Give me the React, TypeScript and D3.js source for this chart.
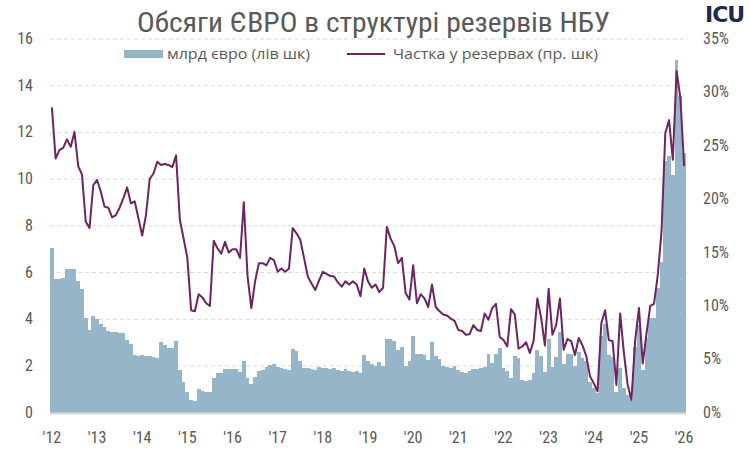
import React from "react";
import * as d3 from "d3";

const yearLabels = ["'12", "'13", "'14", "'15", "'16", "'17", "'18", "'19", "'20", "'21", "'22", "'23", "'24", "'25", "'26"];
const leftTicks = [0, 2, 4, 6, 8, 10, 12, 14, 16];
const rightTicks = [0, 5, 10, 15, 20, 25, 30, 35];

// EUR volume, bn EUR (left axis), monthly Jan 2012 .. Jan 2026
const eurBn = [
  7.04, 5.71, 5.71, 5.77, 6.14, 6.16, 6.16, 5.66, 5.29, 4.07, 3.54, 4.14,
  4.0, 3.79, 3.66, 3.51, 3.47, 3.44, 3.43, 3.4, 3.11, 2.93, 2.49, 2.43,
  2.47, 2.44, 2.41, 2.37, 2.33, 3.04, 2.9, 2.79, 2.79, 3.07, 1.83, 1.3,
  0.9, 0.54, 0.5, 1.01, 0.93, 0.9, 0.9, 1.5, 1.71, 1.69, 1.87, 1.87,
  1.87, 1.87, 1.76, 2.23, 1.5, 1.21, 1.54, 1.79, 1.83, 1.97, 2.04, 2.07,
  1.97, 1.93, 1.87, 1.83, 2.71, 2.64, 2.21, 1.93, 1.93, 1.87, 1.83, 1.97,
  1.93, 1.9, 1.87, 1.9, 1.83, 1.79, 1.87, 1.79, 1.76, 1.79, 1.69, 2.45,
  2.2, 2.1, 2.01, 2.19, 2.01, 3.16, 3.16, 3.07, 2.69, 2.8, 2.01, 2.21,
  3.29, 2.51, 2.51, 2.47, 2.26, 3.01, 2.44, 2.29, 2.01, 1.97, 1.93, 2.01,
  1.83, 1.76, 1.69, 1.79, 1.87, 1.87, 1.9, 1.97, 2.5, 2.14, 2.5, 2.76,
  1.9, 1.79, 1.47, 2.43, 2.33, 1.4, 1.37, 1.4, 1.69, 2.69, 2.44, 1.76,
  3.14, 1.97, 2.4, 3.44, 2.07, 2.5, 2.5, 2.01, 2.59, 2.33, 2.21, 1.33,
  1.04, 0.83, 3.3, 3.8, 2.47, 2.4, 0.9, 1.9, 1.04, 0.76, 0.54, 2.83,
  3.76, 1.83, 3.19, 4.04, 4.07, 5.33, 6.47, 10.76, 10.97, 10.19, 15.11, 13.54,
  11.11,
];

// EUR share in reserves, % (right axis)
const eurShare = [
  28.6, 23.8, 24.6, 24.8, 25.6, 24.9, 26.3, 23.1, 22.3, 17.9, 17.3, 21.3,
  21.8, 20.7, 19.3, 19.2, 18.3, 18.5, 19.2, 20.1, 21.1, 19.6, 19.8, 18.2,
  16.6, 18.5, 21.9, 22.4, 23.5, 23.2, 23.3, 23.2, 23.0, 24.1, 18.1, 16.3,
  14.5, 9.6, 9.5, 11.1, 10.8, 10.25, 10.0, 16.1, 15.4, 14.9, 16.0, 15.0,
  15.3, 15.3, 14.5, 19.7, 12.75, 9.8, 12.3, 14.0, 14.0, 13.8, 14.5, 14.3,
  13.2, 13.5, 13.2, 13.5, 17.3, 16.8, 16.2, 14.5, 12.75, 12.1, 11.5, 12.4,
  13.2, 13.0, 12.8, 12.75, 12.2, 11.8, 12.3, 12.0, 12.3, 12.0, 10.9, 13.5,
  12.3, 11.7, 12.0, 11.3, 11.7, 17.4, 16.3, 15.6, 14.0, 14.5, 11.2, 10.6,
  13.8, 10.25, 11.1, 10.7, 9.9, 12.0, 9.9, 9.5, 9.2, 9.1, 8.8, 8.6,
  7.75, 7.65, 7.3, 7.35, 8.2, 7.75, 7.65, 9.3, 8.7, 9.8, 10.2, 7.1,
  6.8, 6.2, 9.7, 9.2, 6.0, 6.2, 6.6, 5.6, 6.7, 10.7, 8.9, 6.3,
  11.6, 7.3, 8.2, 10.7, 5.9, 6.9, 6.7, 5.4, 7.0, 6.3, 5.3, 3.4,
  2.75, 2.0, 8.4, 9.6, 6.8, 6.7, 2.6, 9.3, 5.6, 2.6, 1.2, 6.8,
  9.8, 4.6, 7.4, 10.0, 10.2, 12.9, 17.0, 26.2, 27.4, 23.7, 32.0, 29.5,
  23.1,
];

const W = 750;
const H = 451;
const FONT = "'Liberation Sans Narrow', 'Roboto Condensed', Roboto, sans-serif";
const LEG_FONT = "'Open Sans', Lato, sans-serif";
const TXT = "#595959";
const BAR = "#97b5c9";
const LINE = "#6e2462";

export default function App() {
  const idx = eurBn.map((_, i) => i);
  const x = d3.scaleBand<number>().domain(idx).range([50, 686]).padding(0);
  const yL = d3.scaleLinear().domain([0, 16]).range([412.7, 39]);
  const yR = d3.scaleLinear().domain([0, 35]).range([412.7, 39]);
  const bw = x.bandwidth();
  const line = d3
    .line<number>()
    .x((_, i) => (x(i) as number) + bw / 2)
    .y((d) => yR(d));

  return (
    <svg width={W} height={H} style={{ position: "absolute", left: 0, top: 0, background: "#fff" }}>
      <rect x={0} y={0} width={W} height={H} fill="#fff" />
      <text x={137} y={32} fontFamily={FONT} fontSize={28} fill={TXT} textLength={473} lengthAdjust="spacingAndGlyphs">
        Обсяги ЄВРО в структурі резервів НБУ
      </text>
      <text x={705} y={22} fontFamily="'DejaVu Sans', sans-serif" fontWeight="bold" fontSize={22} fill="#1d2a4d" letterSpacing={-1}>
        ICU
      </text>

      {leftTicks.map((t) =>
        t === 0 ? null : (
          <line key={"g" + t} x1={50} x2={688} y1={yL(t)} y2={yL(t)} stroke="#d0d0d0" strokeWidth={0.8} strokeDasharray="4 3" />
        )
      )}

      <g shapeRendering="crispEdges">
        {eurBn.map((v, i) => (
          <rect key={"b" + i} x={x(i)} y={yL(v)} width={bw} height={yL(0) - yL(v)} fill={BAR} />
        ))}
      </g>

      <line x1={50} x2={686} y1={yL(0) + 0.8} y2={yL(0) + 0.8} stroke="#d9d9d9" strokeWidth={1.8} />

      <path d={line(eurShare) || ""} fill="none" stroke={LINE} strokeWidth={2} strokeLinejoin="round" />

      {leftTicks.map((t) => (
        <text key={"l" + t} x={33} y={yL(t) + 5} textAnchor="end" fontFamily={FONT} fontSize={16} fill={TXT}>
          {t}
        </text>
      ))}
      {rightTicks.map((t) => (
        <text key={"r" + t} x={703} y={yR(t) + 5} textAnchor="start" fontFamily={FONT} fontSize={16} fill={TXT}>
          {t + "%"}
        </text>
      ))}
      {yearLabels.map((lab, k) => (
        <text key={"x" + k} x={(x(k * 12) as number) + bw / 2} y={443} textAnchor="middle" fontFamily={FONT} fontSize={16} fill={TXT}>
          {lab}
        </text>
      ))}

      <rect x={124} y={50} width={39} height={8} fill={BAR} />
      <text x={167} y={59} fontFamily={LEG_FONT} fontSize={15} fill={TXT} textLength={143} lengthAdjust="spacingAndGlyphs">
        млрд євро (лів шк)
      </text>
      <line x1={347} x2={385} y1={54} y2={54} stroke={LINE} strokeWidth={2} />
      <text x={393} y={59} fontFamily={LEG_FONT} fontSize={15} fill={TXT} textLength={205} lengthAdjust="spacingAndGlyphs">
        Частка у резервах (пр. шк)
      </text>
    </svg>
  );
}
